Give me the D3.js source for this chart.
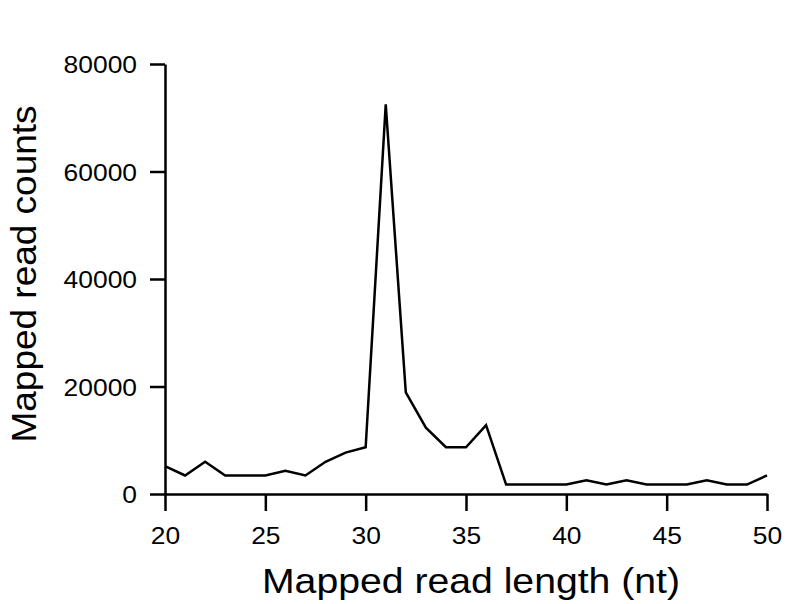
<!DOCTYPE html>
<html><head><meta charset="utf-8">
<script src="https://cdn.jsdelivr.net/npm/d3@7"></script>
<style>body{margin:0;background:#fff}svg{display:block}text{font-family:"Liberation Sans",Arial,sans-serif;fill:#000}</style>
</head><body><svg id="c" width="800" height="604"></svg>
<script>
const lengths = [20,21,22,23,24,25,26,27,28,29,30,31,32,33,34,35,36,37,38,39,40,41,42,43,44,45,46,47,48,49,50];
const counts = [5200,3450,6000,3450,3450,3450,4300,3450,6000,7700,8700,72500,18900,12350,8700,8700,12800,1750,1750,1750,1750,2550,1750,2550,1750,1750,1750,2550,1750,1750,3450];
const xTicks = [20,25,30,35,40,45,50];
const yTicks = [0,20000,40000,60000,80000];
const xTitle = "Mapped read length (nt)";
const yTitle = "Mapped read counts";

const svg = d3.select("#c");
const m = {l:165, r:767, t:64, b:494};
const x = d3.scaleLinear().domain([20,50]).range([m.l, m.r]);
const y = d3.scaleLinear().domain([0,80000]).range([m.b, m.t]);
const sx = 1.1;

const gx = svg.append("g").attr("transform",`translate(0,${m.b})`)
  .call(d3.axisBottom(x).tickValues(xTicks).tickSize(17).tickSizeOuter(0));
const gy = svg.append("g").attr("transform",`translate(${m.l},0)`)
  .call(d3.axisLeft(y).tickValues(yTicks).tickSize(15).tickSizeOuter(0).tickFormat(d3.format("d")));
[gx,gy].forEach(g=>{
  g.selectAll("path,line").attr("stroke","#000").attr("stroke-width",2.5);
  g.selectAll("text").attr("font-size",24).attr("font-family","Liberation Sans, Arial, sans-serif")
    .attr("transform",`scale(${sx},1)`);
});
gx.selectAll("text").attr("y",50).attr("dy",0);
gy.selectAll("text").attr("x",-28/sx).attr("dy","0.36em");

svg.append("path").datum(lengths.map((d,i)=>[d,counts[i]]))
  .attr("fill","none").attr("stroke","#000").attr("stroke-width",2.5).attr("stroke-linejoin","miter")
  .attr("d", d3.line().x(d=>x(d[0])).y(d=>y(d[1])));

svg.append("text").attr("x",471).attr("y",593).attr("text-anchor","middle").attr("font-size",35)
  .attr("textLength",418).attr("lengthAdjust","spacingAndGlyphs").text(xTitle);
svg.append("text").attr("transform","translate(36,274) rotate(-90)").attr("text-anchor","middle").attr("font-size",35)
  .attr("textLength",337).attr("lengthAdjust","spacingAndGlyphs").text(yTitle);
</script></body></html>
